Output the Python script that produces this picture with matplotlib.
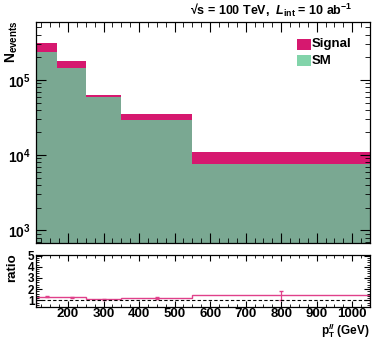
import matplotlib
matplotlib.use("Agg")
import matplotlib.pyplot as plt
from matplotlib.ticker import MultipleLocator, LogLocator, NullFormatter, FixedLocator
import numpy as np

# ---- data ----
bin_edges = [110, 170, 250, 350, 550, 1050]
sm_counts = [2.38e5, 1.42e5, 5.88e4, 2.93e4, 7.5e3]
signal_counts = [0.76e5, 0.39e5, 0.42e4, 0.59e4, 0.34e4]
ratio_centers = [140, 210, 300, 450, 800]
ratio_errors = [0.05, 0.05, 0.05, 0.1, 0.4]
x_ticks = [200, 300, 400, 500, 600, 700, 800, 900, 1000]
ratio_ticks = [1, 2, 3, 4, 5]

plt.rcParams['font.family'] = ['Liberation Sans', 'DejaVu Sans']
plt.rcParams['font.weight'] = 'bold'
plt.rcParams['mathtext.fontset'] = 'custom'
plt.rcParams['mathtext.rm'] = 'Liberation Sans:bold'
plt.rcParams['mathtext.bf'] = 'Liberation Sans:bold'
plt.rcParams['mathtext.it'] = 'Liberation Sans:bold:italic'

sig_col = '#d6186f'
sm_col = '#7aa892'
sm_leg = '#82d4aa'
ratio_col = '#e0408a'

edges = np.array(bin_edges)
sm = np.array(sm_counts)
sig = np.array(signal_counts)
total = sm + sig
ratio = total / sm

fig = plt.figure(figsize=(3.74, 3.40), dpi=100)
ax = fig.add_axes([36/374, 1-243/340, 334/374, 221/340])
axr = fig.add_axes([36/374, 1-307/340, 334/374, 52/340])

ax.stairs(total, edges, fill=True, color=sig_col, baseline=1, lw=0)
ax.stairs(sm, edges, fill=True, color=sm_col, baseline=1, lw=0)
ax.set_yscale('log')
ax.set_xlim(110, 1050)
ax.set_ylim(10**2.83, 10**5.77)
ax.yaxis.set_major_locator(LogLocator(base=10, numticks=10))
ax.yaxis.set_minor_locator(LogLocator(base=10, subs=np.arange(2, 10), numticks=20))
ax.yaxis.set_minor_formatter(NullFormatter())
ax.xaxis.set_major_locator(FixedLocator(x_ticks))
ax.xaxis.set_minor_locator(MultipleLocator(25))
ax.set_xticklabels([])

for a in (ax, axr):
    a.tick_params(which='both', direction='in', top=True, right=True, labelsize=10)
    a.tick_params(which='major', length=7, width=0.8)
    a.tick_params(which='minor', length=3.5, width=0.6)
    for s in a.spines.values():
        s.set_linewidth(0.9)

# legend
ax.add_patch(plt.Rectangle((0.782, 0.875), 0.04, 0.05, transform=ax.transAxes, color=sig_col, lw=0))
ax.add_patch(plt.Rectangle((0.782, 0.800), 0.04, 0.05, transform=ax.transAxes, color=sm_leg, lw=0))
ax.text(0.826, 0.900, 'Signal', transform=ax.transAxes, fontsize=9.5, fontweight='bold', va='center')
ax.text(0.826, 0.825, 'SM', transform=ax.transAxes, fontsize=9.5, fontweight='bold', va='center')

# ratio
axr.stairs(ratio, edges, color=ratio_col, lw=1.0)
axr.errorbar(ratio_centers, ratio, yerr=ratio_errors, fmt='none', ecolor=ratio_col, elinewidth=0.9, capsize=1.5)
axr.axhline(1, color='black', ls='--', lw=0.8, dashes=(3, 2))
axr.set_xlim(110, 1050)
axr.set_ylim(0.4, 5.05)
axr.xaxis.set_major_locator(FixedLocator(x_ticks))
axr.xaxis.set_minor_locator(MultipleLocator(25))
axr.yaxis.set_major_locator(FixedLocator(ratio_ticks))
axr.yaxis.set_minor_locator(MultipleLocator(0.2))
axr.tick_params(axis='x', pad=1, labelsize=9.5)
axr.tick_params(axis='y', pad=1, labelsize=8.5)
axr.tick_params(which='major', length=4)
axr.tick_params(which='minor', length=2)

fig.text(352/374, 1-10/340, r'√s = 100 TeV,  $\mathit{L}_{\mathrm{int}}$ = 10 ab$^{-1}$',
         ha='right', va='center', fontsize=9, fontweight='bold')
fig.text(12/374, 1-20/340, r'N$_{\mathrm{events}}$', rotation=90, ha='center', va='top',
         fontsize=10, fontweight='bold')
fig.text(12/374, 1-268/340, 'ratio', rotation=90, ha='center', va='center',
         fontsize=9.5, fontweight='bold')
fig.text(370/374, 1-339.5/340, r'p$_{\mathrm{T}}^{\mathit{ll}}$ (GeV)', ha='right', va='bottom',
         fontsize=8.5, fontweight='bold')

fig.savefig('out.png', dpi=100)
